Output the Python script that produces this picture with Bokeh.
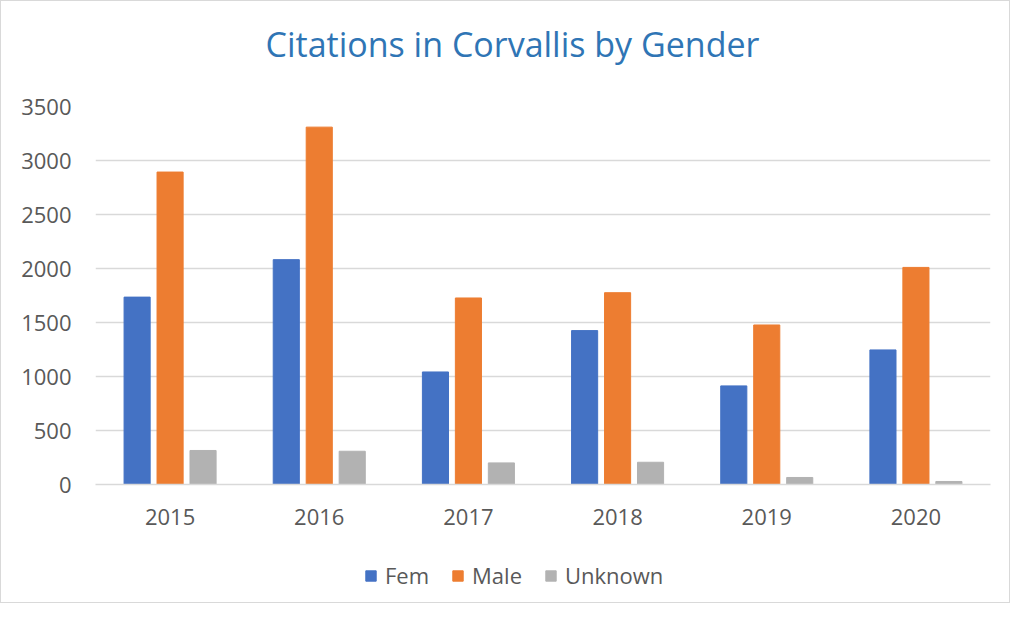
from bokeh.plotting import figure
from bokeh.layouts import column
from bokeh.models import (FactorRange, Legend, LegendItem, Range1d, ColumnDataSource,
                          FixedTicker, Label)
from bokeh.transform import dodge
from bokeh.embed import file_html
from bokeh.resources import INLINE

years = ["2015", "2016", "2017", "2018", "2019", "2020"]
fem = [1735, 2082, 1042, 1425, 913, 1246]
male = [2893, 3309, 1727, 1776, 1477, 2010]
unknown = [315, 308, 200, 206, 65, 28]
y_ticks = [0, 500, 1000, 1500, 2000, 2500, 3000, 3500]
series = ["Fem", "Male", "Unknown"]
fields = ["fem", "male", "unknown"]
colors = ["#4472C4", "#ED7D31", "#B2B2B2"]
title_text = "Citations in Corvallis by Gender"

FONT = "Open Sans"
GRAY_TXT = "#595959"
GRID = "#D9D9D9"

src = ColumnDataSource(dict(years=years, fem=fem, male=male, unknown=unknown))

# ---- title strip (frame aligned with the chart frame by the column layout) ----
tf = figure(width=1008, height=80, output_backend="svg", toolbar_location=None,
            x_range=Range1d(0, 1), y_range=Range1d(0, 1), min_border=0)
tf.axis.visible = False
tf.grid.visible = False
tf.outline_line_color = None
tf.add_layout(Label(x=417, y=38, x_units="screen", y_units="screen", text=title_text,
                    text_align="center", text_baseline="middle",
                    text_font=FONT, text_font_size="34px", text_color="#2F75B5"))

# ---- main chart ----
p = figure(x_range=FactorRange(*years), y_range=Range1d(0, 3500),
           width=1008, height=460, output_backend="svg", toolbar_location=None,
           min_border_left=94, min_border_right=19, min_border_top=25, min_border_bottom=57)

w = 0.175
off = 0.221
for f, dx, c in zip(fields, [-off, 0, off], colors):
    p.vbar(x=dodge("years", dx, range=p.x_range), top=f, width=w, source=src,
           fill_color=c, line_color=c)

p.yaxis.ticker = FixedTicker(ticks=y_ticks)
p.xgrid.grid_line_color = None
p.ygrid.grid_line_color = GRID
p.ygrid.grid_line_width = 1.5
p.outline_line_color = None

for ax in (p.xaxis[0], p.yaxis[0]):
    ax.major_tick_line_color = None
    ax.minor_tick_line_color = None
    ax.major_tick_out = 0
    ax.major_tick_in = 0
    ax.major_label_text_font = FONT
    ax.major_label_text_font_size = "22px"
    ax.major_label_text_color = GRAY_TXT
p.yaxis.axis_line_color = None
p.xaxis.axis_line_color = GRID
p.xaxis.axis_line_width = 1.5
p.yaxis.major_label_standoff = 24
p.xaxis.major_label_standoff = 24

# ---- legend strip (renderers hidden; only legend swatches show) ----
lf = figure(width=1008, height=61, output_backend="svg", toolbar_location=None,
            x_range=FactorRange(*years), y_range=Range1d(-2, -1), min_border=0)
lf.axis.visible = False
lf.grid.visible = False
lf.outline_line_color = None
items = []
for name, f, c in zip(series, fields, colors):
    r = lf.vbar(x="years", top=f, width=0.1, source=src, fill_color=c, line_color=c)
    r.visible = False
    items.append(LegendItem(label=name, renderers=[r]))
legend = Legend(items=items, orientation="horizontal", location=(269, 12),
                label_text_font=FONT, label_text_font_size="22px", label_text_color=GRAY_TXT,
                glyph_width=13, glyph_height=13, spacing=22, padding=0, margin=0,
                label_standoff=8, border_line_color=None, background_fill_alpha=0)
lf.add_layout(legend, "center")

layout = column(tf, p, lf, spacing=0, styles={"border": "1px solid #D9D9D9"})

open("out.html", "w").write(file_html(layout, INLINE))
